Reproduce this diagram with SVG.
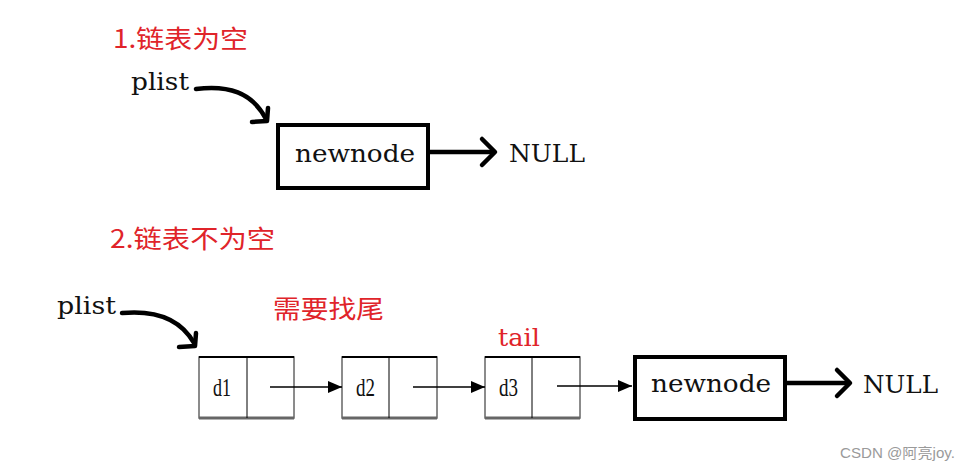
<svg xmlns="http://www.w3.org/2000/svg" width="971" height="471" viewBox="0 0 971 471">
<style>
.red{fill:#e0242a;font-family:"Noto Sans CJK SC","Liberation Serif",serif;font-size:25px}
.redl{fill:#e0242a;font-family:"DejaVu Serif","Liberation Serif",serif;font-size:25px}
.ser{fill:#111;font-family:"DejaVu Serif","Liberation Serif",serif;font-size:25px}
.sm{fill:#111;font-family:"Liberation Serif",serif;font-size:25px}
.big{fill:#fff;stroke:#000;stroke-width:4}
.cell{fill:#fff;stroke:#666;stroke-width:1.5}
.thick{fill:none;stroke:#000;stroke-width:4.5;stroke-linecap:round;stroke-linejoin:round}
.thin{fill:none;stroke:#000;stroke-width:1.5}
.wm{fill:#9a9a9a;font-family:"Liberation Sans","Noto Sans CJK SC",sans-serif;font-size:14px}
</style>
<defs>
<marker id="tri" viewBox="0 0 14 12" refX="14" refY="6" markerWidth="14" markerHeight="12" markerUnits="userSpaceOnUse" orient="auto">
<path d="M0,0 L14,6 L0,12 Z" fill="#000"/>
</marker>
</defs>
<rect width="971" height="471" fill="#fff"/>

<text class="red" x="113" y="48" textLength="135" lengthAdjust="spacingAndGlyphs">1.链表为空</text>
<text class="red" x="110" y="248" textLength="165" lengthAdjust="spacingAndGlyphs">2.链表不为空</text>
<text class="red" x="273" y="318" textLength="111" lengthAdjust="spacingAndGlyphs">需要找尾</text>
<text class="redl" x="498" y="346" textLength="42" lengthAdjust="spacingAndGlyphs">tail</text>

<g id="plist1"><text class="ser" x="131" y="90" textLength="58" lengthAdjust="spacingAndGlyphs">plist</text></g>
<g id="plist2"><text class="ser" x="57" y="314" textLength="59" lengthAdjust="spacingAndGlyphs">plist</text></g>

<g id="newnode1">
<rect class="big" x="278" y="125" width="150" height="63"/>
<text class="ser" x="295" y="162" textLength="120" lengthAdjust="spacingAndGlyphs">newnode</text>
</g>
<g id="null1"><text class="ser" x="509" y="162" textLength="76" lengthAdjust="spacingAndGlyphs">NULL</text></g>

<g id="d1">
<rect class="cell" x="199" y="357" width="95" height="61"/>
<line x1="199" y1="357" x2="294" y2="357" stroke="#000" stroke-width="2"/>
<line x1="199" y1="418" x2="294" y2="418" stroke="#666" stroke-width="3"/>
<line x1="247" y1="357" x2="247" y2="418" stroke="#000" stroke-width="1"/>
<text class="sm" x="213" y="396" textLength="18" lengthAdjust="spacingAndGlyphs">d1</text>
</g>
<g id="d2">
<rect class="cell" x="342" y="357" width="95" height="61"/>
<line x1="342" y1="357" x2="437" y2="357" stroke="#000" stroke-width="2"/>
<line x1="342" y1="418" x2="437" y2="418" stroke="#666" stroke-width="3"/>
<line x1="389" y1="357" x2="389" y2="418" stroke="#000" stroke-width="1"/>
<text class="sm" x="356" y="396" textLength="19" lengthAdjust="spacingAndGlyphs">d2</text>
</g>
<g id="d3">
<rect class="cell" x="485" y="357" width="95" height="61"/>
<line x1="485" y1="357" x2="580" y2="357" stroke="#000" stroke-width="2"/>
<line x1="485" y1="418" x2="580" y2="418" stroke="#666" stroke-width="3"/>
<line x1="532" y1="357" x2="532" y2="418" stroke="#000" stroke-width="1"/>
<text class="sm" x="499" y="396" textLength="19" lengthAdjust="spacingAndGlyphs">d3</text>
</g>
<g id="newnode2">
<rect class="big" x="635" y="357" width="150" height="62"/>
<text class="ser" x="651" y="392" textLength="120" lengthAdjust="spacingAndGlyphs">newnode</text>
</g>
<g id="null2"><text class="ser" x="863" y="393" textLength="75" lengthAdjust="spacingAndGlyphs">NULL</text></g>

<g id="connectors">
<path class="thick" d="M196,89 C228,85 252,92 266,119"/>
<path class="thick" d="M268,108 L267,121 L252,122"/>
<line class="thick" x1="430" y1="152" x2="493" y2="152"/>
<path class="thick" d="M482,139 L495,152 L482,165"/>

<path class="thick" d="M122,313 C155,310 180,318 194,343"/>
<path class="thick" d="M196,333 L195,346 L179,347"/>

<line class="thin" x1="270" y1="387" x2="342" y2="387" marker-end="url(#tri)"/>
<line class="thin" x1="413" y1="387" x2="485" y2="387" marker-end="url(#tri)"/>
<line class="thin" x1="557" y1="386" x2="632" y2="386" marker-end="url(#tri)"/>

<line class="thick" x1="787" y1="383" x2="848" y2="383"/>
<path class="thick" d="M837,370 L850,383 L837,396"/>
</g>

<text class="wm" x="840" y="458" textLength="115" lengthAdjust="spacingAndGlyphs">CSDN @阿亮joy.</text>
</svg>
